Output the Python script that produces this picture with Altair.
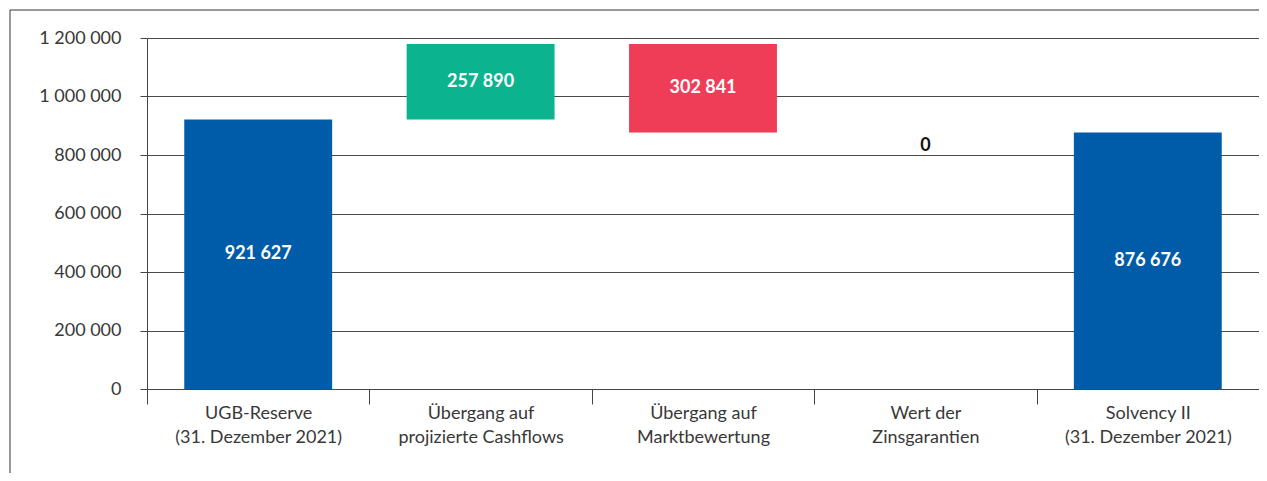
import altair as alt
import pandas as pd

categories = [
    "UGB-Reserve|(31. Dezember 2021)",
    "Übergang auf|projizierte Cashflows",
    "Übergang auf|Marktbewertung",
    "Wert der|Zinsgarantien",
    "Solvency II|(31. Dezember 2021)",
]
amounts = [921627, 257890, -302841, 0, 876676]
kinds = ["total", "increase", "decrease", "zero", "total"]
y_ticks = [0, 200000, 400000, 600000, 800000, 1000000, 1200000]

kind_domain = ["total", "increase", "decrease", "zero"]
kind_colors = ["#005CA9", "#0BB38E", "#EF3D57", "#FFFFFF"]

rows = []
running = 0
for c, a, k in zip(categories, amounts, kinds):
    if k == "total":
        start, end = 0, a
        running = a
    else:
        start, end = running, running + a
        running = end
    rows.append({
        "cat": c, "start": start, "end": end, "mid": (start + end) / 2,
        "kind": k, "label": f"{abs(a):,}".replace(",", " "),
    })
df = pd.DataFrame(rows)

FONT = "Lato, Noto Sans, sans-serif"

x = alt.X(
    "cat:N", sort=categories, title=None,
    scale=alt.Scale(paddingInner=0, paddingOuter=0),
    axis=alt.Axis(
        labelExpr="split(datum.label, '|')", labelAngle=0, tickBand="extent",
        tickSize=15, tickColor="#444", domainColor="#444", labelFontSize=18,
        labelLineHeight=24, labelPadding=0, labelColor="#383838", labelFont=FONT,
        labelLimit=0, grid=False,
    ),
)
y_axis = alt.Axis(
    values=y_ticks, tickSize=7, tickColor="#444", domainColor="#444",
    gridColor="#4a4a4a", labelFontSize=18, labelColor="#383838", labelFont=FONT,
    labelPadding=19,
    labelExpr="replace(replace(format(datum.value, ','), ',', ' '), ',', ' ')",
)

base = alt.Chart(df)
bars = base.mark_bar(width=alt.RelativeBandSize(0.665)).encode(
    x=x,
    y=alt.Y("start:Q", title=None, axis=y_axis,
            scale=alt.Scale(domain=[0, 1200000], nice=False)),
    y2="end:Q",
    color=alt.Color("kind:N", scale=alt.Scale(domain=kind_domain, range=kind_colors), legend=None),
)
inner_text = base.transform_filter("datum.kind != 'zero'").mark_text(
    color="white", fontSize=18, fontWeight="bold", font=FONT, baseline="middle"
).encode(x=alt.X("cat:N", sort=categories), y="mid:Q", text="label:N")
zero_text = base.transform_filter("datum.kind == 'zero'").mark_text(
    color="#111", fontSize=18, fontWeight="bold", font=FONT, baseline="middle", dy=13
).encode(x=alt.X("cat:N", sort=categories), y="end:Q", text="label:N")

frame_df = pd.DataFrame({"a": [0]})
frame_left = alt.Chart(frame_df).mark_rule(color="#333", strokeWidth=1).encode(
    x=alt.value(-137), y=alt.value(-28), y2=alt.value(435)
)
frame_top = alt.Chart(frame_df).mark_rule(color="#333", strokeWidth=1).encode(
    x=alt.value(-137), x2=alt.value(1112), y=alt.value(-28)
)

chart = alt.layer(bars, inner_text, zero_text, frame_left, frame_top).properties(
    width=1112, height=351,
    autosize=alt.AutoSizeParams(type="none"),
    padding={"left": 139, "top": 30, "right": 0, "bottom": 84},
).configure_view(stroke=None).configure(background="white")

chart.save("out.html", embed_options={"renderer": "svg", "actions": False})
